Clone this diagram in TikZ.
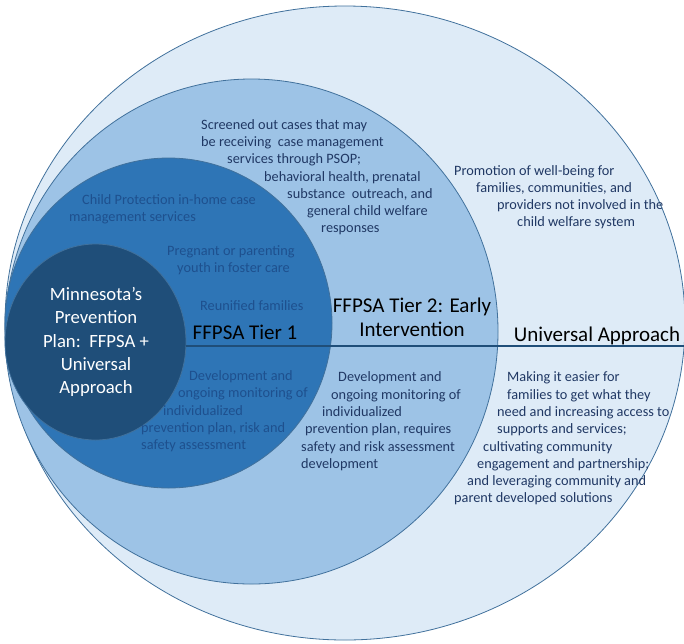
\documentclass[tikz,border=0pt]{standalone}
\usepackage{fontspec}
\setmainfont{Carlito}
\definecolor{outerfill}{RGB}{222,235,247}
\definecolor{earlyfill}{RGB}{157,195,230}
\definecolor{tierfill}{RGB}{46,117,182}
\definecolor{planfill}{RGB}{31,78,121}
\definecolor{rimcolor}{RGB}{65,113,156}
\definecolor{navytext}{RGB}{32,56,100}
\definecolor{dimtext}{RGB}{30,80,142}
\tikzset{rim/.style={draw=rimcolor, line width=0.8pt}}
\tikzset{note/.style={font=\fontsize{14.3}{17}\selectfont, text=navytext, inner sep=0pt, anchor=base west}}
\tikzset{dimnote/.style={note, text=dimtext}}
\tikzset{heading/.style={font=\fontsize{21}{24}\selectfont, align=center, inner sep=0pt}}
\tikzset{divider/.style={draw=planfill, line width=1.6pt}}

\begin{document}
\begin{tikzpicture}[x=1pt, y=-1pt]
            \useasboundingbox (0, 0) rectangle (684, 643);
            % nested rings
            \draw[rim, fill=outerfill] (345, 323) ellipse [x radius=340, y radius=317];
            \draw[rim, fill=earlyfill] (251.5, 331.5) ellipse [x radius=246.5, y radius=252.5];
            \draw[rim, fill=tierfill] (168.5, 323) ellipse [x radius=163.5, y radius=165];
            \draw[rim, fill=planfill] (95.5, 342) ellipse [x radius=90.5, y radius=98];
            % dividing line
            \coordinate (lineL) at (186, 346);
            \coordinate (lineR) at (684, 346);
            \draw[divider] (lineL) -- (lineR);
            % headings
            \node[heading, text=white, font=\fontsize{18.7}{23.2}\selectfont] (plan) at (96, 342) {Minnesota’s\\Prevention\\Plan:\ \ FFPSA +\\Universal\\Approach};
            \node[heading] (tierone) at (245, 332) {FFPSA Tier 1};
            \node[heading] (tiertwo) at (412, 317) {FFPSA Tier 2: Early\\Intervention};
            \node[heading] (universal) at (597, 336) {Universal Approach};
            % tier 1 notes
            \foreach \x/\y/\txt [count=\i] in {82/200/Child Protection in-home case, 69/217/management services,
                    167/251/Pregnant or parenting, 177/268/youth in foster care, 200/306/Reunified families,
                    189/376/Development and, 178/393/ongoing monitoring of, 163/411/individualized,
                    141/428/{prevention plan, risk and}, 141/445/safety assessment} {
                \node[dimnote] (one\i) at (\x, \y+4) {\txt};
            }
            % tier 2 notes
            \foreach \x/\y/\txt [count=\i] in {201/125/Screened out cases that may, 201/142/be receiving\ \ case management,
                    227/159/services through PSOP;, 264/177/{behavioral health, prenatal},
                    287/194/{substance\ \ outreach, and}, 307/211/general child welfare, 321/228/responses} {
                \node[note] (screen\i) at (\x, \y+4) {\txt};
            }
            \foreach \x/\y/\txt [count=\i] in {338/377/Development and, 331/395/ongoing monitoring of,
                    322/412/individualized, 305/429/{prevention plan, requires},
                    301/447/safety and risk assessment, 301/464/development} {
                \node[note] (early\i) at (\x, \y+4) {\txt};
            }
            % universal notes
            \foreach \x/\y/\txt [count=\i] in {454/171/Promotion of well-being for, 476/188/{families, communities, and},
                    497/205/providers not involved in the, 517/222/child welfare system} {
                \node[note] (promo\i) at (\x, \y+4) {\txt};
            }
            \foreach \x/\y/\txt [count=\i] in {507/377/Making it easier for, 507/395/families to get what they,
                    497/412/need and increasing access to, 497/429/supports and services;,
                    483/447/cultivating community, 477/464/engagement and partnership;,
                    467/481/and leveraging community and, 454/498/parent developed solutions} {
                \node[note] (reach\i) at (\x, \y+4) {\txt};
            }
        \end{tikzpicture}
\end{document}
